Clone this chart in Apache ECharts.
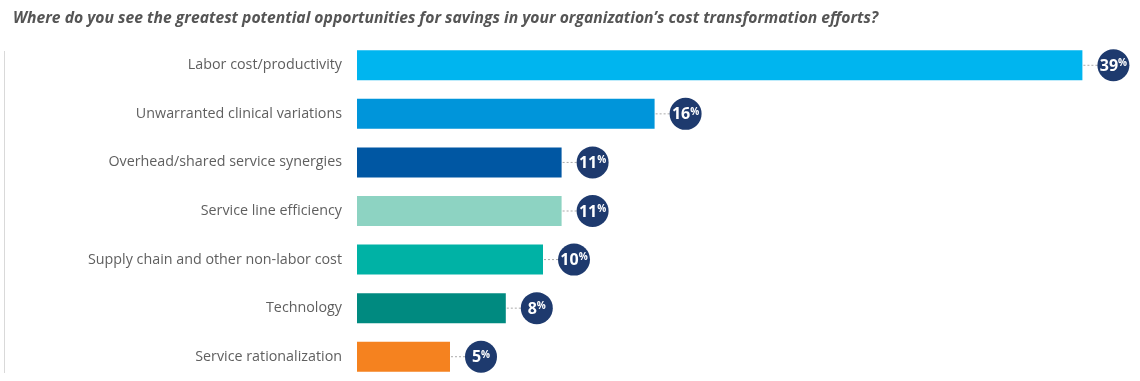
<!DOCTYPE html>
<html><head><meta charset="utf-8">
<script src="https://cdn.jsdelivr.net/npm/echarts@6/dist/echarts.min.js"></script>
<style>html,body{margin:0;padding:0;background:#fff}#c{width:1140px;height:381px}</style>
</head><body><div id="c"></div>
<script>
const categories = ['Labor cost/productivity','Unwarranted clinical variations','Overhead/shared service synergies','Service line efficiency','Supply chain and other non-labor cost','Technology','Service rationalization'];
const values = [39,16,11,11,10,8,5];
const colors = ['#00B5EF','#0095DA','#0057A3','#8DD3C2','#00B2A5','#008A80','#F5821F'];
const titleText = 'Where do you see the greatest potential opportunities for savings in your organization\u2019s cost transformation efforts?';

const chart = echarts.init(document.getElementById('c'));
chart.setOption({
  animation:false,
  title:{text:titleText,left:8,top:6,textStyle:{fontFamily:'Open Sans',fontSize:15.7,fontWeight:'bold',fontStyle:'italic',color:'#555'}},
  graphic:[{type:'line',shape:{x1:4.5,y1:51,x2:4.5,y2:373},style:{stroke:'#d9d9d9',lineWidth:1}}],
  grid:{left:357,right:39,top:41,height:343},
  xAxis:{type:'value',min:0,max:40,show:false},
  yAxis:{type:'category',data:categories,inverse:true,axisLine:{show:false},axisTick:{show:false},
    axisLabel:{fontFamily:'Open Sans',fontSize:14.3,color:'#5f5f5f',margin:15}},
  series:[
    {type:'bar',data:values.map((v,i)=>({value:v,itemStyle:{color:colors[i]}})),barWidth:30},
    {type:'custom',data:values.map((v,i)=>[v,i]),
     renderItem:function(params,api){
       const p = api.coord([api.value(0),api.value(1)]);
       const cx = p[0]+31, cy = p[1];
       const txt = String(api.value(0));
       return {type:'group',children:[
         {type:'line',shape:{x1:p[0]+1,y1:cy,x2:cx-15,y2:cy},style:{stroke:'#aaa',lineWidth:1,lineDash:[2,2]}},
         {type:'circle',shape:{cx:cx,cy:cy,r:16},style:{fill:'#1E3A6E'}},
         {type:'text',x:cx,y:cy+1,style:{text:'{n|'+txt+'}{p|%}',align:'center',verticalAlign:'middle',
           rich:{n:{fontFamily:'Open Sans',fontSize:16,fontWeight:'bold',fill:'#fff',color:'#fff'},
                 p:{fontFamily:'Open Sans',fontSize:10,fontWeight:'bold',fill:'#fff',color:'#fff',verticalAlign:'top',padding:[0,0,6,0]}}}}
       ]};
     }}
  ]
});
</script></body></html>
